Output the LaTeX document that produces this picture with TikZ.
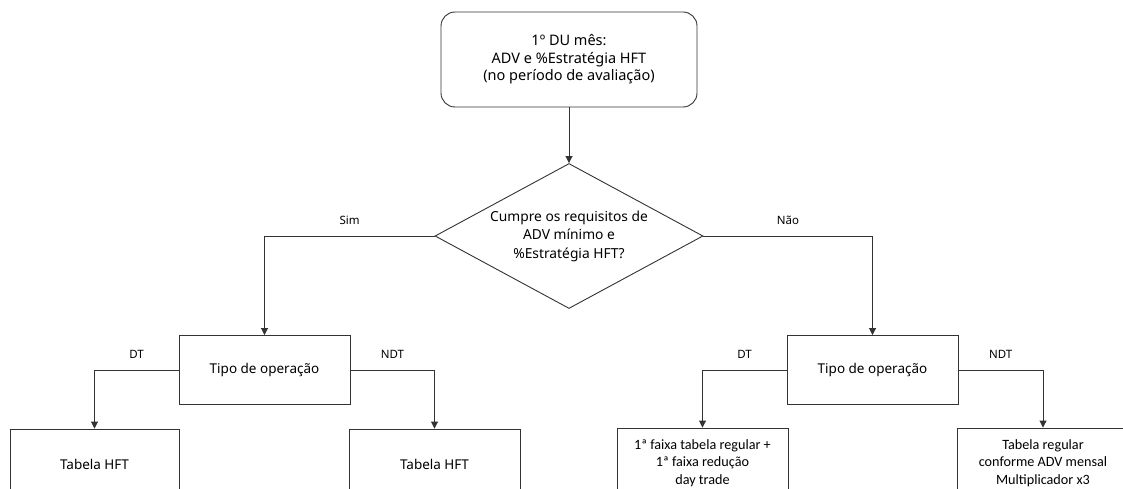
\documentclass[tikz,border=0pt]{standalone}
\usepackage{fontspec}
\setmainfont{Noto Sans}
\newfontfamily\calib{Carlito}
\usetikzlibrary{arrows.meta,shapes.geometric}
\definecolor{ln}{HTML}{333333}
\tikzset{
  x=1pt,y=-1pt,
  every node/.style={text=black, align=center},
  box/.style={draw=ln, line width=0.9pt, rectangle, inner sep=0pt, font=\fontsize{13.5}{18}\selectfont},
  rbox/.style={box, rounded corners=14pt, font=\fontsize{14.5}{17.5}\selectfont},
  cbox/.style={box, font=\calib\fontsize{14.2}{17.5}\selectfont},
  dia/.style={draw=ln, line width=0.9pt, diamond, inner sep=0pt, aspect=1.85, minimum width=268pt, minimum height=145pt, font=\fontsize{13.8}{18.5}\selectfont},
  lab/.style={font=\fontsize{11.5}{12}\selectfont, yshift=16pt},
  arr/.style={draw=ln, line width=0.9pt, -{Triangle[length=7pt,width=7pt]}},
}
\begin{document}
\begin{tikzpicture}
\useasboundingbox (0,0) rectangle (1123,489);
\clip (0,0) rectangle (1123,489);
\fill[white] (0,0) rectangle (1123,489);
\node[rbox, minimum width=256pt, minimum height=95pt] (top) at (569,59.5) {1º DU mês:\\ADV e \%Estratégia HFT\\(no período de avaliação)};
\node[dia] (d) at (569,236) {Cumpre os requisitos de\\ADV mínimo e\\\%Estratégia HFT?};
\node[box, minimum width=171pt, minimum height=69pt] (tl) at (264.5,370) {Tipo de operação};
\node[box, minimum width=171pt, minimum height=69pt] (tr) at (872.5,370) {Tipo de operação};
\node[box, minimum width=169pt, minimum height=70pt] (b1) at (94.5,464) {Tabela HFT};
\node[box, minimum width=171pt, minimum height=70pt] (b2) at (434.5,464) {Tabela HFT};
\node[cbox, minimum width=171pt, minimum height=70pt] (b3) at (702.5,463) {1ª faixa tabela regular +\\1ª faixa redução\\day trade};
\node[cbox, minimum width=172pt, minimum height=70pt] (b4) at (1043,463) {Tabela regular\\conforme ADV mensal\\Multiplicador x3};
\draw[arr] (top) -- (d);
\draw[arr] (d.west) -| node[lab, pos=0.25] (sim) {Sim} (tl);
\draw[arr] (d.east) -| node[lab, pos=0.25] (nao) {Não} (tr);
\draw[arr] (tl.west) -| node[lab, pos=0.25] (dt1) {DT} (b1);
\draw[arr] (tl.east) -| node[lab, pos=0.25] (ndt1) {NDT} (b2);
\draw[arr] (tr.west) -| node[lab, pos=0.25] (dt2) {DT} (b3);
\draw[arr] (tr.east) -| node[lab, pos=0.25] (ndt2) {NDT} (b4);
\end{tikzpicture}
\end{document}
